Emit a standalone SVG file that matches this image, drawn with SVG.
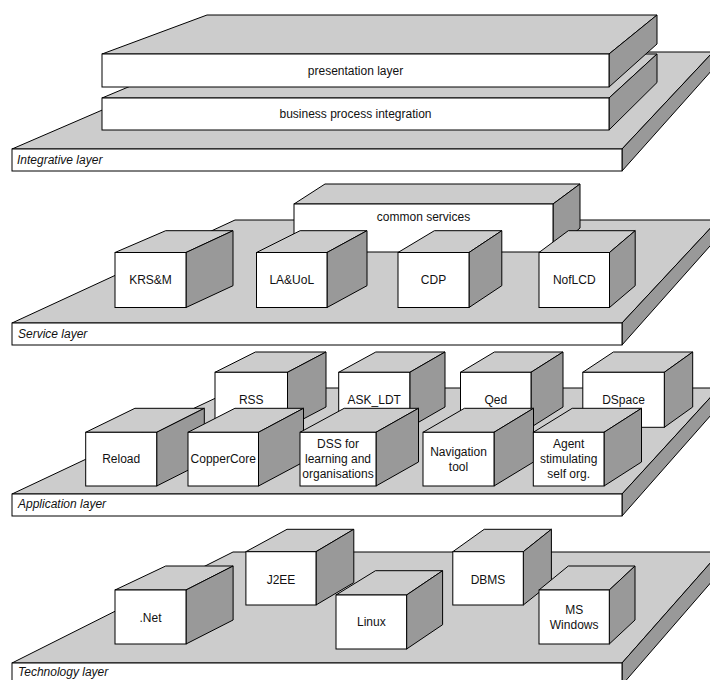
<svg xmlns="http://www.w3.org/2000/svg" width="710" height="680" viewBox="0 0 710 680">
<style>
.top{fill:#cccccc;stroke:#000;stroke-width:1;stroke-linejoin:round}
.side{fill:#999999;stroke:#000;stroke-width:1;stroke-linejoin:round}
.front{fill:#ffffff;stroke:#000;stroke-width:1}
text{font-family:"Liberation Sans",Arial,sans-serif;font-size:12px;fill:#111}
.c{text-anchor:middle}
.i{font-style:italic}
</style>
<rect x="0" y="0" width="710" height="680" fill="#fff"/>

<!-- Integrative layer -->
<g id="integrative-layer">
<polygon class="top" points="12,149 622,149 713,52 236.6,52"/>
<polygon class="side" points="622,149 713,52 713,69 622,171"/>
<rect class="front" x="12" y="149" width="610" height="22"/>
<text class="i" x="17" y="164">Integrative layer</text>
</g>
<g id="business-process-integration">
<polygon class="top" points="102,98 609,98 657,54 207,54"/>
<polygon class="side" points="609,98 657,54 657,82.5 609,130"/>
<rect class="front" x="102" y="98" width="507" height="32"/>
<text class="c" x="355.5" y="118">business process integration</text>
</g>
<g id="presentation-layer">
<polygon class="top" points="102,54 609,54 657,15 207,15"/>
<polygon class="side" points="609,54 657,15 657,44 609,87"/>
<rect class="front" x="102" y="54" width="507" height="33"/>
<text class="c" x="355.5" y="74.5">presentation layer</text>
</g>

<!-- Service layer -->
<g id="service-layer">
<polygon class="top" points="12,323 622,323 718,220 235,220"/>
<polygon class="side" points="622,323 718,220 718,237 622,345"/>
<rect class="front" x="12" y="323" width="610" height="22"/>
<text class="i" x="18" y="338">Service layer</text>
</g>
<g id="common-services">
<polygon class="top" points="294,204 553,204 580,184 325,184"/>
<polygon class="side" points="553,204 580,184 580,228 553,252"/>
<rect class="front" x="294" y="204" width="259" height="48"/>
<text class="c" x="423.5" y="221">common services</text>
</g>
<g id="krsm">
<polygon class="top" points="115,252.5 186,252.5 233,230.7 165.7,230.7"/>
<polygon class="side" points="186,252.5 233,230.7 233,285.7 186,307.5"/>
<rect class="front" x="115" y="252.5" width="71" height="55"/>
<text class="c" x="150.5" y="284">KRS&amp;M</text>
</g>
<g id="la-uol">
<polygon class="top" points="256.5,252.5 327,252.5 367,230.7 300.1,230.7"/>
<polygon class="side" points="327,252.5 367,230.7 367,285.7 327,307.5"/>
<rect class="front" x="256.5" y="252.5" width="70.5" height="55"/>
<text class="c" x="291.75" y="284">LA&amp;UoL</text>
</g>
<g id="cdp">
<polygon class="top" points="398,252.5 469,252.5 501.8,230.7 434.4,230.7"/>
<polygon class="side" points="469,252.5 501.8,230.7 501.8,285.7 469,307.5"/>
<rect class="front" x="398" y="252.5" width="71" height="55"/>
<text class="c" x="433.5" y="284">CDP</text>
</g>
<g id="noflcd">
<polygon class="top" points="539,252.5 609.5,252.5 635.2,230.7 568.3,230.7"/>
<polygon class="side" points="609.5,252.5 635.2,230.7 635.2,285.7 609.5,307.5"/>
<rect class="front" x="539" y="252.5" width="70.5" height="55"/>
<text class="c" x="574.25" y="284">NofLCD</text>
</g>

<!-- Application layer -->
<g id="application-layer">
<polygon class="top" points="12,494 622,494 719,388 237,388"/>
<polygon class="side" points="622,494 719,388 719,406 622,516"/>
<rect class="front" x="12" y="494" width="610" height="22"/>
<text class="i" x="18" y="508">Application layer</text>
</g>
<g id="rss">
<polygon class="top" points="215,372.3 287.5,372.3 326,352 255.4,352"/>
<polygon class="side" points="287.5,372.3 326,352 326,407 287.5,427.3"/>
<rect class="front" x="215" y="372.3" width="72.5" height="55"/>
<text class="c" x="251.25" y="403.5">RSS</text>
</g>
<g id="ask-ldt">
<polygon class="top" points="338.7,372.3 409.8,372.3 445,352 375.8,352"/>
<polygon class="side" points="409.8,372.3 445,352 445,407 409.8,427.3"/>
<rect class="front" x="338.7" y="372.3" width="71.1" height="55"/>
<text class="c" x="374.25" y="403.5">ASK_LDT</text>
</g>
<g id="qed">
<polygon class="top" points="460.5,372.3 531,372.3 563,352 494.4,352"/>
<polygon class="side" points="531,372.3 563,352 563,407 531,427.3"/>
<rect class="front" x="460.5" y="372.3" width="70.5" height="55"/>
<text class="c" x="495.75" y="403.5">Qed</text>
</g>
<g id="dspace">
<polygon class="top" points="582.8,372.3 664.3,372.3 692.7,352 613.4,352"/>
<polygon class="side" points="664.3,372.3 692.7,352 692.7,407 664.3,427.3"/>
<rect class="front" x="582.8" y="372.3" width="81.5" height="55"/>
<text class="c" x="623.55" y="403.5">DSpace</text>
</g>
<g id="reload">
<polygon class="top" points="85.7,432.3 156.7,432.3 204.3,408.3 134.9,408.3"/>
<polygon class="side" points="156.7,432.3 204.3,408.3 204.3,462 156.7,486"/>
<rect class="front" x="85.7" y="432.3" width="71" height="53.7"/>
<text class="c" x="121.2" y="463">Reload</text>
</g>
<g id="coppercore">
<polygon class="top" points="188,432.3 258.5,432.3 303.5,408.3 234.9,408.3"/>
<polygon class="side" points="258.5,432.3 303.5,408.3 303.5,462 258.5,486"/>
<rect class="front" x="188" y="432.3" width="70.5" height="53.7"/>
<text class="c" x="223.25" y="463">CopperCore</text>
</g>
<g id="dss">
<polygon class="top" points="300,432.3 376,432.3 418.5,408.3 344.2,408.3"/>
<polygon class="side" points="376,432.3 418.5,408.3 418.5,462 376,486"/>
<rect class="front" x="300" y="432.3" width="76" height="53.7"/>
<text class="c" x="338" y="448">DSS for<tspan x="338" dy="15">learning and</tspan><tspan x="338" dy="15">organisations</tspan></text>
</g>
<g id="navigation-tool">
<polygon class="top" points="423,432.3 494,432.3 533.5,408.3 464.4,408.3"/>
<polygon class="side" points="494,432.3 533.5,408.3 533.5,462 494,486"/>
<rect class="front" x="423" y="432.3" width="71" height="53.7"/>
<text class="c" x="458.5" y="455.5">Navigation<tspan x="458.5" dy="15">tool</tspan></text>
</g>
<g id="agent">
<polygon class="top" points="533.3,432.3 604,432.3 641.5,408.3 572.2,408.3"/>
<polygon class="side" points="604,432.3 641.5,408.3 641.5,462 604,486"/>
<rect class="front" x="533.3" y="432.3" width="70.7" height="53.7"/>
<text class="c" x="568.65" y="448">Agent<tspan x="568.65" dy="15">stimulating</tspan><tspan x="568.65" dy="15">self org.</tspan></text>
</g>

<!-- Technology layer -->
<g id="technology-layer">
<polygon class="top" points="12,663 622,663 720,552 233,552"/>
<polygon class="side" points="622,663 720,552 720,572 622,685"/>
<rect class="front" x="12" y="663" width="610" height="25"/>
<text class="i" x="18" y="676">Technology layer</text>
</g>
<g id="j2ee">
<polygon class="top" points="245.9,551.7 316,551.7 353.8,529.3 287,529.3"/>
<polygon class="side" points="316,551.7 353.8,529.3 353.8,582.6 316,605"/>
<rect class="front" x="245.9" y="551.7" width="70.1" height="53.3"/>
<text class="c" x="281" y="584">J2EE</text>
</g>
<g id="dbms">
<polygon class="top" points="452.8,551.7 523.3,551.7 551.4,529.3 484.2,529.3"/>
<polygon class="side" points="523.3,551.7 551.4,529.3 551.4,582.6 523.3,605"/>
<rect class="front" x="452.8" y="551.7" width="70.5" height="53.3"/>
<text class="c" x="488" y="584">DBMS</text>
</g>
<g id="dotnet">
<polygon class="top" points="115,590 186,590 233.1,566 165.7,566"/>
<polygon class="side" points="186,590 233.1,566 233.1,620 186,644"/>
<rect class="front" x="115" y="590" width="71" height="54"/>
<text class="c" x="150.5" y="621.5">.Net</text>
</g>
<g id="linux">
<polygon class="top" points="336,595 406.6,595 442.6,570.7 375.5,570.7"/>
<polygon class="side" points="406.6,595 442.6,570.7 442.6,624.7 406.6,649"/>
<rect class="front" x="336" y="595" width="70.6" height="54"/>
<text class="c" x="371.3" y="626">Linux</text>
</g>
<g id="ms-windows">
<polygon class="top" points="539,590 609.3,590 635,566 568.3,566"/>
<polygon class="side" points="609.3,590 635,566 635,620 609.3,644"/>
<rect class="front" x="539" y="590" width="70.3" height="54"/>
<text class="c" x="574.15" y="613.5">MS<tspan x="574.15" dy="15">Windows</tspan></text>
</g>
</svg>
